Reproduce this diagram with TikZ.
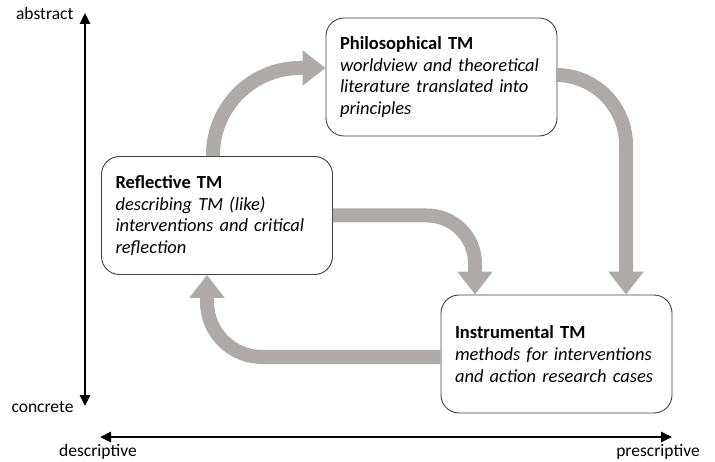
\documentclass[tikz,border=0pt]{standalone}
\usepackage{fontspec}
\setmainfont{Carlito}
\usetikzlibrary{arrows.meta}
\definecolor{flowgray}{RGB}{174,170,170}

\begin{document}
\begin{tikzpicture}[x=1pt, y=-1pt, font=\fontsize{17.5pt}{21.5pt}\selectfont,
    tmbox/.style={draw=black!75, line width=0.9pt, fill=white, rounded corners=18pt,
        minimum width=231pt, minimum height=118pt, text width=203pt, align=left,
        inner xsep=14pt, inner ysep=0pt, font=\fontsize{18.5pt}{21.8pt}\selectfont},
    flow/.style={draw=flowgray, line width=14pt, -{Triangle[width=34pt,length=23pt]}},
    axis/.style={line width=2.6pt, {Triangle[width=10pt,length=11pt]}-{Triangle[width=10pt,length=11pt]}}]

        \useasboundingbox (0,0) rectangle (715,462);

        % Boxes
        \node[tmbox] (phil) at (441.5, 77) {\textbf{Philosophical TM}\\ \textit{worldview and theoretical}\\ \textit{literature translated into}\\ \textit{principles}};
        \node[tmbox] (refl) at (217, 215.5) {\textbf{Reflective TM}\\ \textit{describing TM (like)}\\ \textit{interventions and critical}\\ \textit{reflection}};
        \node[tmbox] (inst) at (556.5, 354) {\textbf{Instrumental TM}\\ \textit{methods for interventions}\\ \textit{and action research cases}};

        % Cycle arrows
        \draw[flow, rounded corners=87pt] ([xshift=-4pt]refl.north) |- ([yshift=9pt]phil.west);
        \draw[flow, rounded corners=70pt] ([yshift=2pt]phil.east) -| ([xshift=69.5pt]inst.north);
        \draw[flow, rounded corners=48pt] (refl.east) -| ([xshift=-81.5pt]inst.north);
        \draw[flow, rounded corners=55pt] ([yshift=-3pt]inst.west) -| ([xshift=-10pt]refl.south);

        % Vertical axis
        \coordinate (abstr) at (85, 13);
        \coordinate (concr) at (85, 406);
        \draw[axis] (abstr) -- (concr);
        \node[anchor=base east] (abstrlabel) at (77, 20) {abstract};
        \node[anchor=base east] (concrlabel) at (77, 412) {concrete};

        % Horizontal axis
        \coordinate (descr) at (100, 437);
        \coordinate (prescr) at (672, 437);
        \draw[axis] (descr) -- (prescr);
        \node[anchor=base] (descrlabel) at (98, 456) {descriptive};
        \node[anchor=base] (prescrlabel) at (658, 456) {prescriptive};

    \end{tikzpicture}
\end{document}
